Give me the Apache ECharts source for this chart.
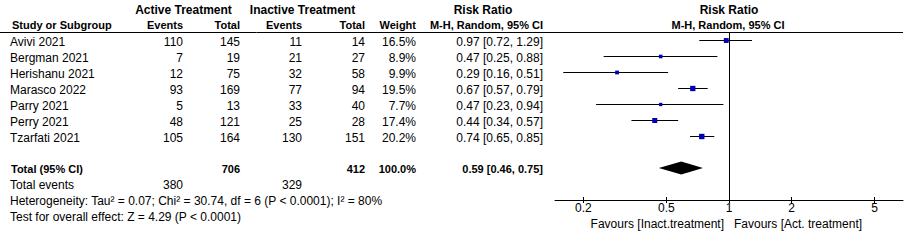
<!DOCTYPE html>
<html>
<head>
<meta charset="utf-8">
<script src="https://cdn.jsdelivr.net/npm/echarts@6/dist/echarts.min.js"></script>
<style>
  html, body { margin: 0; padding: 0; background: #fff; }
  #chart { width: 913px; height: 240px; }
</style>
</head>
<body>
<div id="chart"></div>
<script>
// study data
const studies = ['Avivi 2021', 'Bergman 2021', 'Herishanu 2021', 'Marasco 2022', 'Parry 2021', 'Perry 2021', 'Tzarfati 2021']
const actEvents = [110, 7, 12, 93, 5, 48, 105]
const actTotal = [145, 19, 75, 169, 13, 121, 164]
const inactEvents = [11, 21, 32, 77, 33, 25, 130]
const inactTotal = [14, 27, 58, 94, 40, 28, 151]
const weights = [16.5, 8.9, 9.9, 19.5, 7.7, 17.4, 20.2]
const rr = [0.97, 0.47, 0.29, 0.67, 0.47, 0.44, 0.74]
const rrLow = [0.72, 0.25, 0.16, 0.57, 0.23, 0.34, 0.65]
const rrHigh = [1.29, 0.88, 0.51, 0.79, 0.94, 0.57, 0.85]

// pooled
const totalN = [706, 412]
const totalEvents = [380, 329]
const pooled = [0.59, 0.46, 0.75]
const heterogeneity = 'Heterogeneity: Tau\u00b2 = 0.07; Chi\u00b2 = 30.74, df = 6 (P < 0.0001); I\u00b2 = 80%'
const overall = 'Test for overall effect: Z = 4.29 (P < 0.0001)'

const tickValues = [0.2, 0.5, 1, 2, 5]
const nullLine = [1]

const FONT = 'Arial, "Liberation Sans", sans-serif'
const chart = echarts.init(document.getElementById('chart'), null, { renderer: 'svg' })

function txt(text, x, y, align, bold, size) {
  return {
    type: 'text',
    x: x,
    y: y,
    silent: true,
    style: {
      text: String(text),
      fill: '#000',
      fontSize: size || 12,
      fontWeight: bold ? 'bold' : 'normal',
      fontFamily: FONT,
      align: align,
      verticalAlign: 'middle'
    }
  }
}

const fmt2 = v => v.toFixed(2)
const graphics = []

// headers
graphics.push(txt('Active Treatment', 183.5, 9.5, 'center', true))
graphics.push(txt('Inactive Treatment', 302.5, 9.5, 'center', true))
graphics.push(txt('Risk Ratio', 483, 9.5, 'center', true))
graphics.push(txt('Risk Ratio', 729, 9.5, 'center', true))
graphics.push(txt('Study or Subgroup', 12, 25, 'left', true, 11))
graphics.push(txt('Events', 183, 25, 'right', true, 11))
graphics.push(txt('Total', 240, 25, 'right', true, 11))
graphics.push(txt('Events', 302, 25, 'right', true, 11))
graphics.push(txt('Total', 365, 25, 'right', true, 11))
graphics.push(txt('Weight', 416, 25, 'right', true, 11))
graphics.push(txt('M-H, Random, 95% CI', 543, 25, 'right', true, 11))
graphics.push(txt('M-H, Random, 95% CI', 728, 25, 'center', true, 11))

graphics.push({
  type: 'line',
  silent: true,
  shape: { x1: 0, y1: 32.5, x2: 903, y2: 32.5 },
  style: { stroke: '#000', lineWidth: 1 }
})

studies.forEach(function(name, i) {
  const y = 42 + 16 * i
  graphics.push(txt(name, 10, y, 'left'))
  graphics.push(txt(actEvents[i], 183, y, 'right'))
  graphics.push(txt(actTotal[i], 240, y, 'right'))
  graphics.push(txt(inactEvents[i], 302, y, 'right'))
  graphics.push(txt(inactTotal[i], 365, y, 'right'))
  graphics.push(txt(weights[i].toFixed(1) + '%', 416, y, 'right'))
  graphics.push(txt(fmt2(rr[i]) + ' [' + fmt2(rrLow[i]) + ', ' + fmt2(rrHigh[i]) + ']', 543, y, 'right'))
})

graphics.push(txt('Total (95% CI)', 11, 169, 'left', true, 11))
graphics.push(txt(totalN[0], 240, 169, 'right', true, 11))
graphics.push(txt(totalN[1], 365, 169, 'right', true, 11))
graphics.push(txt('100.0%', 416, 169, 'right', true, 11))
graphics.push(txt(fmt2(pooled[0]) + ' [' + fmt2(pooled[1]) + ', ' + fmt2(pooled[2]) + ']', 543, 169, 'right', true, 11))
graphics.push(txt('Total events', 10, 185, 'left'))
graphics.push(txt(totalEvents[0], 183, 185, 'right'))
graphics.push(txt(totalEvents[1], 302, 185, 'right'))
graphics.push(txt(heterogeneity, 10, 201, 'left'))
graphics.push(txt(overall, 10, 217, 'left'))

graphics.push(txt('Favours [Inact.treatment]', 724, 224, 'right'))
graphics.push(txt('Favours [Act. treatment]', 734, 224, 'left'))

const studyData = studies.map((s, i) => [rr[i], i, rrLow[i], rrHigh[i], weights[i]])

const gridBox = { left: 555, right: 10, top: 32, height: 168 }

chart.setOption({
  animation: false,
  graphic: graphics,
  grid: [gridBox, gridBox],
  xAxis: [
    {
      type: 'log',
      gridIndex: 0,
      min: 0.146,
      max: 6.85,
      position: 'bottom',
      axisLine: { onZero: false, lineStyle: { color: '#000', width: 1 } },
      axisTick: { show: true, length: 3, customValues: tickValues, lineStyle: { color: '#000' } },
      axisLabel: {
        customValues: tickValues,
        color: '#000',
        fontSize: 12,
        fontFamily: FONT,
        margin: 2,
        formatter: v => String(v)
      },
      splitLine: { show: false },
      minorTick: { show: false }
    },
    {
      // inward half of the tick marks
      type: 'log',
      gridIndex: 1,
      min: 0.146,
      max: 6.85,
      position: 'bottom',
      axisLine: { show: false, onZero: false },
      axisTick: { show: true, inside: true, length: 3, customValues: tickValues, lineStyle: { color: '#000' } },
      axisLabel: { show: false },
      splitLine: { show: false }
    }
  ],
  yAxis: [
    { type: 'value', gridIndex: 0, min: -0.5, max: 10, inverse: true, show: false },
    { type: 'value', gridIndex: 1, min: -0.5, max: 10, inverse: true, show: false }
  ],
  series: [
    {
      // line of no effect
      type: 'custom',
      xAxisIndex: 0,
      yAxisIndex: 0,
      data: nullLine.map(v => [v]),
      encode: { x: 0 },
      renderItem: function(params, api) {
        const top = api.coord([api.value(0), -0.5])
        const bottom = api.coord([api.value(0), 10])
        const x = Math.round(top[0]) + 0.5
        return {
          type: 'line',
          shape: { x1: x, y1: top[1], x2: x, y2: bottom[1] },
          style: { stroke: '#000', lineWidth: 1 }
        }
      }
    },
    {
      type: 'custom',
      xAxisIndex: 0,
      yAxisIndex: 0,
      data: studyData,
      encode: { x: [0, 2, 3], y: 1 },
      renderItem: function(params, api) {
        const row = api.value(1)
        const c = api.coord([api.value(0), row])
        const l = api.coord([api.value(2), row])
        const h = api.coord([api.value(3), row])
        const side = 1.2 * Math.sqrt(api.value(4))
        const yy = Math.round(c[1]) + 0.5
        return {
          type: 'group',
          children: [
            {
              type: 'line',
              shape: { x1: l[0], y1: yy, x2: h[0], y2: yy },
              style: { stroke: '#000', lineWidth: 1 }
            },
            {
              type: 'rect',
              shape: { x: c[0] - side / 2, y: yy - side / 2, width: side, height: side },
              style: { fill: '#0000b4' }
            }
          ]
        }
      }
    },
    {
      type: 'custom',
      xAxisIndex: 0,
      yAxisIndex: 0,
      data: [[pooled[0], 8, pooled[1], pooled[2]]],
      encode: { x: [0, 2, 3], y: 1 },
      renderItem: function(params, api) {
        const row = api.value(1)
        const c = api.coord([api.value(0), row])
        const l = api.coord([api.value(2), row])
        const h = api.coord([api.value(3), row])
        const hh = 6.5
        return {
          type: 'polygon',
          shape: { points: [[l[0], c[1]], [c[0], c[1] - hh], [h[0], c[1]], [c[0], c[1] + hh]] },
          style: { fill: '#000' }
        }
      }
    }
  ]
})
</script>
</body>
</html>
